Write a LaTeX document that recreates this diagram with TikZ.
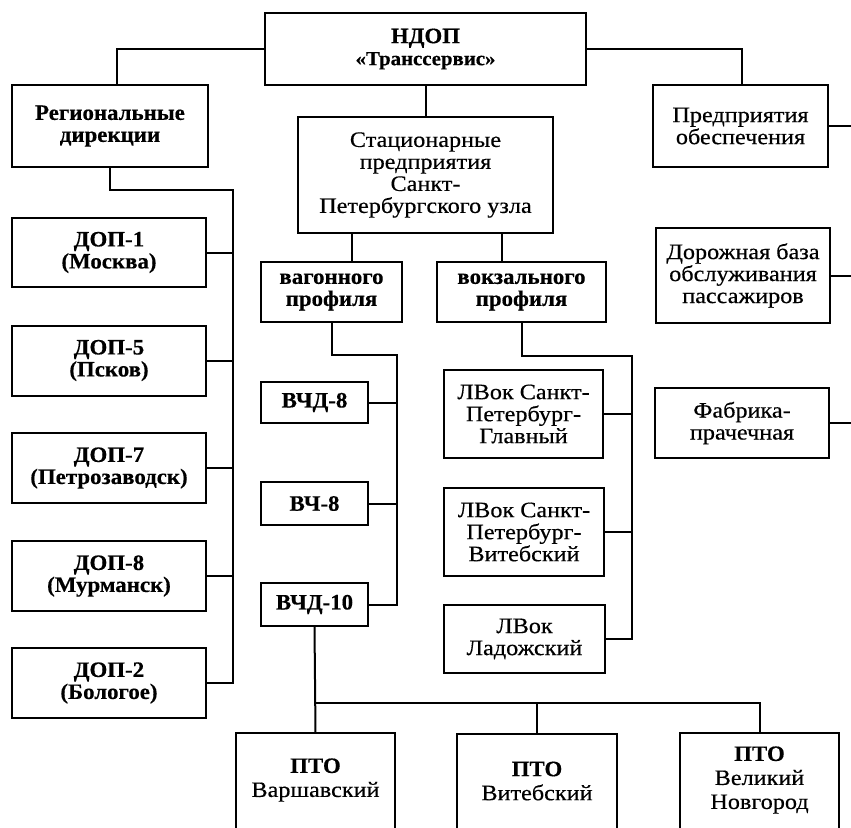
\documentclass[tikz,border=0pt]{standalone}
\usepackage{fontspec}
\setmainfont{Liberation Serif}[FakeStretch=1.1, FakeBold=0.4, BoldFeatures={FakeStretch=1.04}]
\begin{document}
\begin{tikzpicture}[x=1pt,y=-1pt,
  box/.style={draw, line width=2pt, align=center, inner sep=2pt, font=\fontsize{22}{22}\selectfont},
  bbox/.style={box, font=\fontsize{22}{22}\selectfont\bfseries},
  tbox/.style={align=center, inner sep=2pt, font=\fontsize{22}{24}\selectfont},
  conn/.style={line width=2pt},
  frame/.style={line width=2pt}]
\useasboundingbox (0,0) rectangle (851,827);
\fill[white] (0,0) rectangle (851,827);
% top
\node[bbox, minimum width=321, minimum height=72] (ndop) at (425.5,49) {НДОП\\{\fontsize{20}{21}\selectfont «Транссервис»}};
\node[bbox, minimum width=196, minimum height=82] (reg) at (110,126) {Региональные\\дирекции};
\node[box, minimum width=255, minimum height=116] (stat) at (425.5,175) {Стационарные\\предприятия\\Санкт-\\Петербургского узла};
\node[box, minimum width=175, minimum height=82] (pred) at (740.5,126) {Предприятия\\обеспечения};
% left column
\node[bbox, minimum width=194, minimum height=69] (dop1) at (109,252.5) {ДОП-1\\(Москва)};
\node[bbox, minimum width=194, minimum height=70] (dop5) at (109,360.5) {ДОП-5\\(Псков)};
\node[bbox, minimum width=194, minimum height=70] (dop7) at (109,468) {ДОП-7\\(Петрозаводск)};
\node[bbox, minimum width=194, minimum height=70] (dop8) at (109,576) {ДОП-8\\(Мурманск)};
\node[bbox, minimum width=194, minimum height=70] (dop2) at (109,683) {ДОП-2\\(Бологое)};
% profiles
\node[bbox, minimum width=141, minimum height=60] (vag) at (331.5,292) {вагонного\\профиля};
\node[bbox, minimum width=169, minimum height=60] (vok) at (521.5,292) {вокзального\\профиля};
\node[bbox, minimum width=107, minimum height=41] (vchd8) at (314.5,402.5) {ВЧД-8};
\node[bbox, minimum width=107, minimum height=43] (vch8) at (314.5,503.5) {ВЧ-8};
\node[bbox, minimum width=107, minimum height=43] (vchd10) at (314.5,604.5) {ВЧД-10};
\node[box, minimum width=159, minimum height=88] (lv1) at (523.5,414) {ЛВок Санкт-\\Петербург-\\Главный};
\node[box, minimum width=160, minimum height=88] (lv2) at (524,532) {ЛВок Санкт-\\Петербург-\\Витебский};
\node[box, minimum width=161, minimum height=68] (lv3) at (524.5,639) {ЛВок\\Ладожский};
% right column
\node[box, minimum width=174, minimum height=95] (dor) at (743,275.5) {Дорожная база\\обслуживания\\пассажиров};
\node[box, minimum width=174, minimum height=70] (fab) at (742,423) {Фабрика-\\прачечная};
% bottom
\node[tbox, minimum width=159, minimum height=94] (pto1) at (315.5,780) {\textbf{ПТО}\\Варшавский};
\node[tbox, minimum width=160, minimum height=94] (pto2) at (537,781) {\textbf{ПТО}\\Витебский};
\node[tbox, minimum width=159, minimum height=94] (pto3) at (759.5,780) {\textbf{ПТО}\\Великий\\Новгород};
\foreach \n in {pto1,pto2,pto3}{
  \draw[frame] ([yshift=-20pt]\n.south west) -- (\n.north west) -- (\n.north east) -- ([yshift=-20pt]\n.south east);
}
% coordinates
\coordinate (lbus) at (233,190);
\coordinate (vbus) at (397,355);
\coordinate (kbus) at (632,356);
\coordinate (pbus) at (315,703);
\coordinate (r1) at (860,126);
\coordinate (r2) at (860,275.5);
\coordinate (r3) at (860,423);
% connectors
\draw[conn] (ndop.west) -| ([xshift=7pt]reg.north);
\draw[conn] (ndop.east) -| ([xshift=1.5pt]pred.north);
\draw[conn] (ndop.south) -- (stat.north);
\draw[conn] (reg.south) |- (lbus) |- (dop2.east);
\foreach \n in {dop1,dop5,dop7,dop8}{\draw[conn] (\n.east) -- (\n.east -| lbus);}
\draw[conn] ([xshift=20.5pt]vag.north) -- ([xshift=20.5pt]vag.north |- stat.south);
\draw[conn] ([xshift=-19.5pt]vok.north) -- ([xshift=-19.5pt]vok.north |- stat.south);
\draw[conn] (vag.south) |- (vbus) |- (vchd10.east);
\foreach \n in {vchd8,vch8}{\draw[conn] (\n.east) -- (\n.east -| vbus);}
\draw[conn] (vok.south) |- (kbus) |- (lv3.east);
\foreach \n in {lv1,lv2}{\draw[conn] (\n.east) -- (\n.east -| kbus);}
\draw[conn] (vchd10.south) -- (pto1.north);
\draw[conn] (pbus) -| (pto3.north);
\draw[conn] (pto2.north) -- (pto2.north |- pbus);
\draw[conn] (pred.east) -- (r1);
\draw[conn] (dor.east) -- (r2);
\draw[conn] (fab.east) -- (r3);
\end{tikzpicture}
\end{document}
